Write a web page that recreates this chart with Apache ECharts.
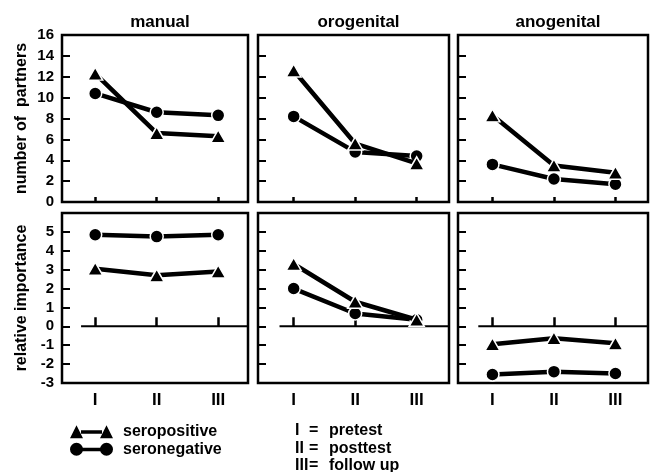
<!DOCTYPE html>
<html>
<head>
<meta charset="utf-8">
<script src="https://cdn.jsdelivr.net/npm/echarts@6/dist/echarts.min.js"></script>
<style>
  html, body { margin: 0; padding: 0; background: #fff; }
  #main { width: 658px; height: 472px; }
</style>
</head>
<body>
<div id="main"></div>
<script>
// test occasions
var occasions = [1, 2, 3];
var romanLabels = ['I', 'II', 'III'];
var panelNames = ['manual', 'orogenital', 'anogenital'];

// number of partners (top row)
var partnersPos = [[12.3, 6.6, 6.3], [12.6, 5.6, 3.7], [8.3, 3.5, 2.8]];
var partnersNeg = [[10.4, 8.6, 8.3], [8.2, 4.8, 4.4], [3.6, 2.2, 1.7]];

// relative importance (bottom row)
var importancePos = [[3.05, 2.7, 2.9], [3.3, 1.3, 0.35], [-0.95, -0.63, -0.9]];
var importanceNeg = [[4.85, 4.75, 4.85], [2.0, 0.68, 0.35], [-2.55, -2.4, -2.5]];

var zeroLineStart = 0.77;
var keyLines = [['I', 'pretest'], ['II', 'posttest'], ['III', 'follow up']];

// layout
var gridLeft = [62, 258, 458];
var gridWidth = [186, 191, 190];
var rowTop = [35, 213];
var rowHeight = [167, 170];
var xMin = [0.46, 0.42, 0.44];
var pxPerUnit = 61.5;

var FONT = 'Liberation Sans';

var triIcon = 'path://M0,13 L6.5,0 L13,13 Z M11,5 L32,5 L32,8.5 L11,8.5 Z M30,13 L36.5,0 L43,13 Z';
var dotIcon = 'path://M0,6.5 A6.5,6.5 0 1,1 13,6.5 A6.5,6.5 0 1,1 0,6.5 Z M11,5 L32,5 L32,8.5 L11,8.5 Z M30,6.5 A6.5,6.5 0 1,1 43,6.5 A6.5,6.5 0 1,1 30,6.5 Z';

var grids = [], xAxes = [], yAxes = [], series = [], titles = [];

function pairs(vals) {
  return occasions.map(function (x, i) { return [x, vals[i]]; });
}

for (var r = 0; r < 2; r++) {
  for (var p = 0; p < 3; p++) {
    var idx = r * 3 + p;
    var xmax = xMin[p] + gridWidth[p] / pxPerUnit;
    grids.push({
      left: gridLeft[p], top: rowTop[r], width: gridWidth[p], height: rowHeight[r],
      show: true, borderColor: '#000', borderWidth: 2.5, backgroundColor: 'transparent'
    });
    xAxes.push({
      type: 'value', gridIndex: idx, min: xMin[p], max: xmax,
      axisLine: { show: false },
      splitLine: { show: false },
      axisTick: {
        show: true, inside: true, length: r === 0 ? 5 : 9, customValues: occasions,
        lineStyle: { color: '#000', width: 2.5 }
      },
      axisLabel: {
        show: r === 1, customValues: occasions, margin: 9,
        fontFamily: FONT, fontWeight: 'bold', fontSize: 17, color: '#000',
        formatter: function (v) { return romanLabels[Math.round(v) - 1] || ''; }
      }
    });
    var y = {
      type: 'value', gridIndex: idx,
      min: r === 0 ? 0 : -3, max: r === 0 ? 16 : 6, interval: r === 0 ? 2 : 1,
      axisLine: { show: false },
      splitLine: { show: false },
      axisTick: { show: true, inside: true, length: 8, lineStyle: { color: '#000', width: 2 } },
      axisLabel: {
        show: p === 0, margin: 8,
        fontFamily: FONT, fontWeight: 'bold', fontSize: 15, color: '#000',
        formatter: r === 0 ? '{value}' : function (v) { return v === 6 ? '' : String(v); }
      }
    };
    if (p === 0) {
      y.name = r === 0 ? 'number of  partners' : 'relative importance';
      y.nameLocation = 'middle';
      y.nameGap = 32;
      y.nameRotate = 90;
      y.nameTextStyle = { fontFamily: FONT, fontWeight: 'bold', fontSize: 16, color: '#000' };
    }
    yAxes.push(y);

    if (r === 1) {
      series.push({
        type: 'line', xAxisIndex: idx, yAxisIndex: idx, silent: true,
        data: [[zeroLineStart, 0], [xmax, 0]],
        symbol: 'none', lineStyle: { color: '#000', width: 2 }, z: 1
      });
    }
    var neg = r === 0 ? partnersNeg[p] : importanceNeg[p];
    var pos = r === 0 ? partnersPos[p] : importancePos[p];
    series.push({
      name: 'seronegative', type: 'line', xAxisIndex: idx, yAxisIndex: idx,
      data: pairs(neg), symbol: 'circle', symbolSize: 13,
      lineStyle: { color: '#000', width: 4.5 },
      itemStyle: { color: '#000', borderColor: '#fff', borderWidth: 1.5 },
      z: 3
    });
    series.push({
      name: 'seropositive', type: 'line', xAxisIndex: idx, yAxisIndex: idx,
      data: pairs(pos), symbol: 'triangle', symbolSize: [15, 13],
      lineStyle: { color: '#000', width: 4.5 },
      itemStyle: { color: '#000', borderColor: '#fff', borderWidth: 1.5 },
      z: 4
    });
  }
  if (r === 0) {
    for (var q = 0; q < 3; q++) {
      titles.push({
        text: panelNames[q], left: gridLeft[q] + gridWidth[q] / 2, top: 9, textAlign: 'center',
        textStyle: { fontFamily: FONT, fontWeight: 'bold', fontSize: 17, color: '#000' }
      });
    }
  }
}

var keyText = keyLines.map(function (k) {
  return '{r|' + k[0] + '}{e|=}{t|' + k[1] + '}';
}).join('\n');

var myChart = echarts.init(document.getElementById('main'), null, { renderer: 'canvas' });
myChart.setOption({
  animation: false,
  backgroundColor: '#fff',
  title: titles,
  grid: grids,
  xAxis: xAxes,
  yAxis: yAxes,
  legend: {
    orient: 'vertical', left: 65, top: 418,
    itemWidth: 43, itemHeight: 13, itemGap: 0,
    selectedMode: false,
    itemStyle: { borderWidth: 0 },
    textStyle: { fontFamily: FONT, fontWeight: 'bold', fontSize: 16, color: '#000', lineHeight: 17.5, padding: [0, 0, 0, 5] },
    data: [
      { name: 'seropositive', icon: triIcon },
      { name: 'seronegative', icon: dotIcon }
    ]
  },
  graphic: [{
    type: 'text', left: 295, top: 422,
    style: {
      text: keyText,
      fontFamily: FONT, fontWeight: 'bold', fontSize: 16, fill: '#000', lineHeight: 17.5,
      rich: {
        r: { width: 14, fontFamily: FONT, fontWeight: 'bold', fontSize: 16, lineHeight: 17.5 },
        e: { width: 20, fontFamily: FONT, fontWeight: 'bold', fontSize: 16, lineHeight: 17.5 },
        t: { fontFamily: FONT, fontWeight: 'bold', fontSize: 16, lineHeight: 17.5 }
      }
    }
  }],
  series: series
});
window.onresize = myChart.resize;
</script>
</body>
</html>
